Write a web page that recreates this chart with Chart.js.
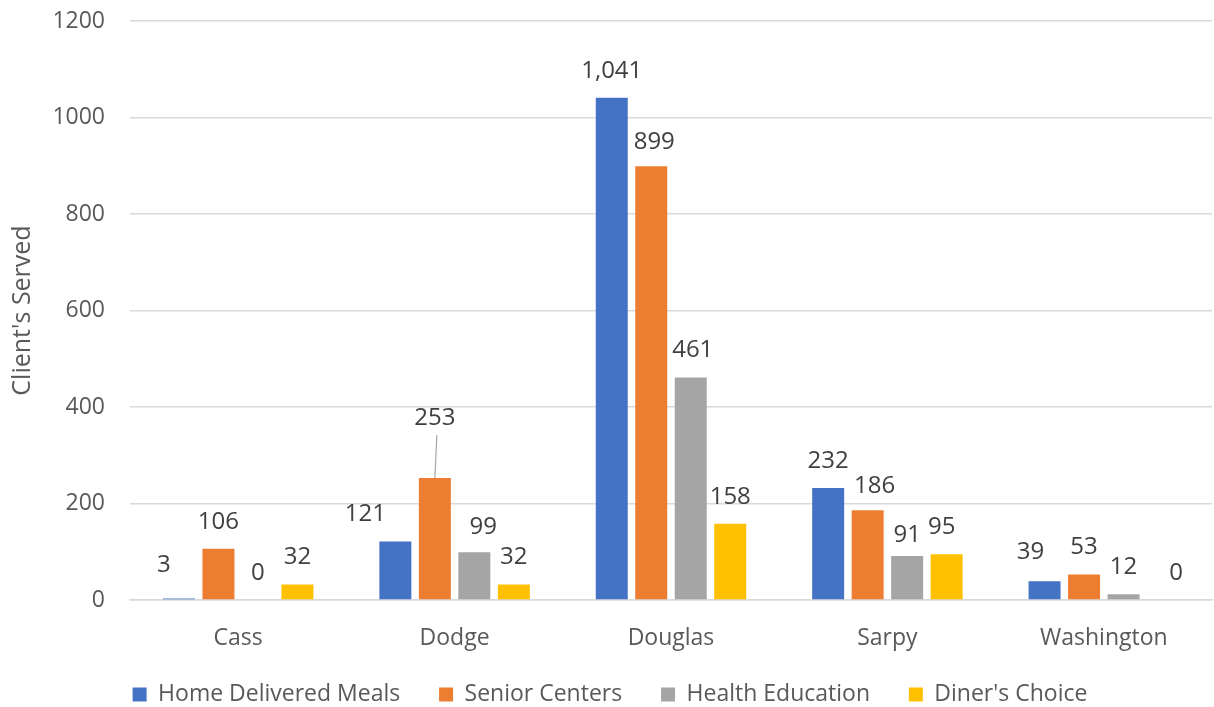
<!DOCTYPE html>
<html>
<head>
<meta charset="utf-8">
<script src="https://cdn.jsdelivr.net/npm/chart.js@4.4.1/dist/chart.umd.min.js"></script>
<style>
  html, body { margin: 0; padding: 0; background: #ffffff; }
  #wrap { width: 1214px; height: 707px; position: relative; }
</style>
</head>
<body>
<div id="wrap"><canvas id="c"></canvas></div>
<script>
// ---- Data ----
const categories = ["Cass", "Dodge", "Douglas", "Sarpy", "Washington"];
const seriesNames = ["Home Delivered Meals", "Senior Centers", "Health Education", "Diner's Choice"];
const homeDeliveredMeals = [3, 121, 1041, 232, 39];
const seniorCenters = [106, 253, 899, 186, 53];
const healthEducation = [0, 99, 461, 91, 12];
const dinersChoice = [32, 32, 158, 95, 0];
const yTicks = [0, 200, 400, 600, 800, 1000, 1200];

// ---- Styling ----
const colors = ["#4472C4", "#ED7D31", "#A5A5A5", "#FFC000"];
const FONT = "'Open Sans', sans-serif";
const textColor = "#595959";
const labelColor = "#404040";
const gridColor = "#D9D9D9";

// label nudges (px) keyed "dataset-index", mimicking manually placed labels
const labelNudge = {
  "0-0": [-15, -6], "0-1": [-30, 0], "0-4": [-14, -2],
  "1-1": [0, -33], "1-2": [3, 3], "1-3": [7, 3],
  "2-1": [9, 2], "2-2": [2, 0], "2-3": [0, 6],
  "3-3": [-5, 0], "3-4": [13, 0]
};
const leaderLines = ["1-1"];

const valueLabels = {
  id: "valueLabels",
  afterDatasetsDraw(chart) {
    const ctx = chart.ctx;
    ctx.save();
    ctx.font = "24px " + FONT;
    ctx.fillStyle = labelColor;
    ctx.textAlign = "center";
    ctx.textBaseline = "middle";
    chart.data.datasets.forEach((ds, di) => {
      const meta = chart.getDatasetMeta(di);
      meta.data.forEach((bar, i) => {
        const key = di + "-" + i;
        const n = labelNudge[key] || [0, 0];
        const x = bar.x + n[0];
        const y = bar.y - 27 + n[1];
        const v = ds.data[i];
        const txt = v.toLocaleString("en-US");
        ctx.fillText(txt, x, y);
        if (leaderLines.includes(key)) {
          ctx.strokeStyle = "#A6A6A6";
          ctx.lineWidth = 1.2;
          ctx.beginPath();
          ctx.moveTo(x + 2, y + 17);
          ctx.lineTo(bar.x, bar.y);
          ctx.stroke();
        }
      });
    });
    ctx.restore();
  }
};

const seriesData = [homeDeliveredMeals, seniorCenters, healthEducation, dinersChoice];
const legendGap = "      ";

new Chart(document.getElementById("c"), {
  type: "bar",
  data: {
    labels: categories,
    datasets: seriesNames.map((name, k) => ({
      label: name,
      data: seriesData[k],
      backgroundColor: colors[k],
      borderWidth: 0,
      barPercentage: 0.81,
      categoryPercentage: 0.73
    }))
  },
  options: {
    responsive: true,
    maintainAspectRatio: false,
    animation: false,
    devicePixelRatio: 1,
    layout: { padding: { top: 21, right: 2, left: 8, bottom: -9 } },
    plugins: {
      tooltip: { enabled: false },
      legend: {
        position: "bottom",
        labels: {
          font: { family: FONT, size: 23 },
          color: textColor,
          boxWidth: 14,
          boxHeight: 14,
          padding: 3,
          generateLabels(chart) {
            const items = Chart.defaults.plugins.legend.labels.generateLabels(chart);
            items.forEach((it, k) => { if (k < items.length - 1) it.text = it.text + legendGap; });
            return items;
          }
        }
      }
    },
    scales: {
      x: {
        grid: { display: false, drawTicks: false },
        border: { display: true, color: gridColor, width: 1.5 },
        ticks: { font: { family: FONT, size: 23 }, color: textColor, padding: 25 },
        afterFit(scale) { scale.height = 80; }
      },
      y: {
        min: 0,
        max: 1200,
        afterBuildTicks(scale) { scale.ticks = yTicks.map(v => ({ value: v })); },
        grid: { color: gridColor, lineWidth: 1.5, drawTicks: false },
        border: { display: false },
        ticks: {
          font: { family: FONT, size: 23 }, color: textColor, padding: 25,
          callback: v => String(v)
        },
        title: {
          display: true,
          text: "Client's Served",
          font: { family: FONT, size: 25 },
          color: textColor,
          padding: { top: 0, bottom: 0 }
        },
        afterFit(scale) {
          scale.width = 122;
          scale.paddingTop = 0;
          scale.paddingBottom = 0;
        }
      }
    }
  },
  plugins: [valueLabels]
});
</script>
</body>
</html>
